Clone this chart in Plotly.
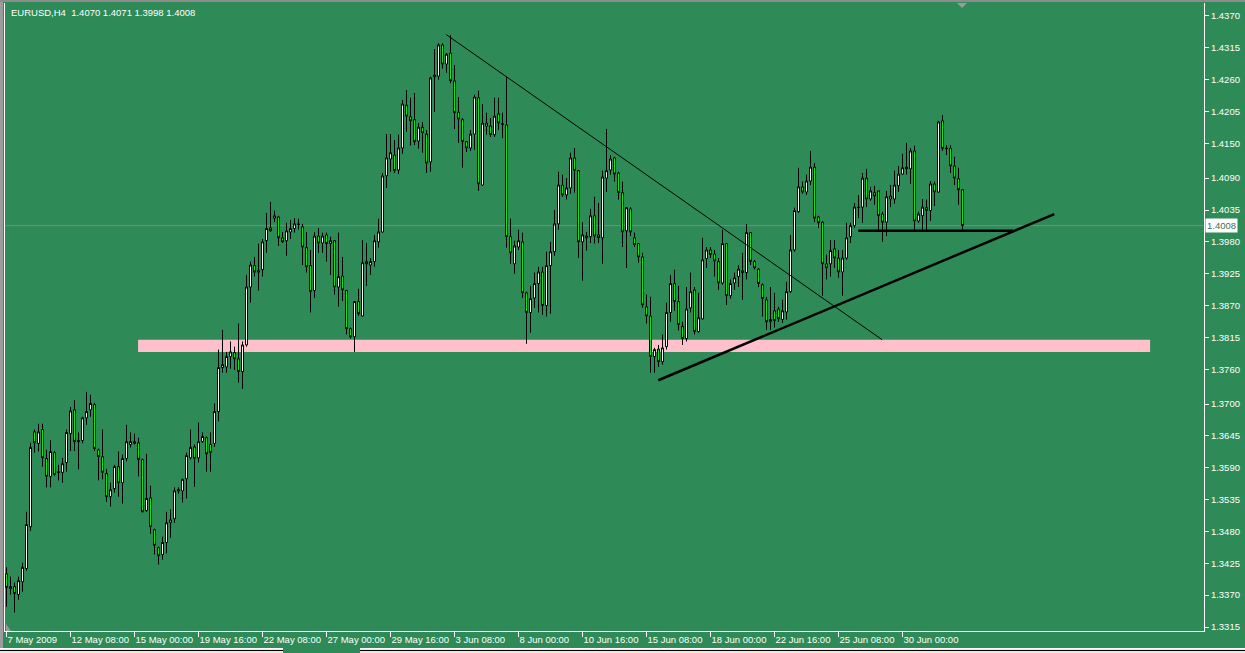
import plotly.graph_objects as go

# ---------------- data (EURUSD H4) ----------------
opens = [
1.3407,1.3381,1.3385,1.3371,1.3393,1.3416,1.3488,1.3652,1.3632,1.3656,
1.3606,1.3575,1.3616,1.3583,1.3582,1.3599,1.3649,1.3690,1.3637,1.3637,
1.3676,1.3690,1.3699,1.3621,1.3609,1.3580,1.3540,1.3554,1.3592,1.3564,
1.3606,1.3630,1.3632,1.3633,1.3604,1.3516,1.3538,1.3483,1.3452,1.3440,
1.3461,1.3495,1.3502,1.3550,1.3550,1.3571,1.3607,1.3626,1.3607,1.3635,
1.3642,1.3630,1.3632,1.3687,1.3763,1.3764,1.3782,1.3789,1.3778,1.3756,
1.3802,1.3902,1.3939,1.3928,1.3932,1.3982,1.4004,1.4021,1.4023,1.3987,
1.3982,1.3997,1.4003,1.4011,1.4006,1.3970,1.3939,1.3896,1.3990,1.3978,
1.3992,1.3977,1.3982,1.3902,1.3921,1.3896,1.3830,1.3816,1.3877,1.3852,
1.3946,1.3940,1.3946,1.3980,1.3997,1.4094,1.4123,1.4130,1.4104,1.4142,
1.4216,1.4196,1.4191,1.4154,1.4178,1.4166,1.4118,1.4265,1.4266,1.4320,
1.4287,1.4306,1.4258,1.4204,1.4191,1.4153,1.4142,1.4166,1.4229,1.4078,
1.4180,1.4180,1.4165,1.4201,1.4184,1.4182,1.3989,1.3942,1.3971,1.3980,
1.3892,1.3858,1.3883,1.3908,1.3928,1.3870,1.3939,1.3963,1.4011,1.4078,
1.4061,1.4073,1.4125,1.4103,1.3980,1.3987,1.3989,1.4025,1.3992,1.3987,
1.4090,1.4104,1.4125,1.4099,1.4065,1.3999,1.4037,1.3987,1.3977,1.3954,
1.3868,1.3852,1.3782,1.3795,1.3773,1.3799,1.3858,1.3908,1.3877,1.3834,
1.3813,1.3866,1.3897,1.3825,1.3847,1.3951,1.3966,1.3959,1.3946,1.3909,
1.3977,1.3887,1.3909,1.3920,1.3930,1.3927,1.3996,1.3946,1.3933,1.3906,
1.3880,1.3842,1.3861,1.3864,1.3846,1.3859,1.3894,1.3966,1.4032,1.4075,
1.4066,1.4085,1.4109,1.4023,1.4014,1.3942,1.3942,1.3968,1.3952,1.3928,
1.3952,1.3989,1.4008,1.4039,1.4040,1.4090,1.4054,1.4065,1.4068,1.4028,
1.4014,1.4054,1.4054,1.4077,1.4097,1.4109,1.4106,1.4137,1.4016,1.4025,
1.4039,1.4034,1.4080,1.4066,1.4189,1.4142,1.4142,1.4111,1.4089,1.4070,
]

highs = [
1.3418,1.3402,1.3392,1.3402,1.3426,1.3514,1.3633,1.3656,1.3666,1.3666,
1.3621,1.3638,1.3619,1.3595,1.3607,1.3656,1.3695,1.3707,1.3651,1.3678,
1.3721,1.3716,1.3702,1.3623,1.3656,1.3588,1.3564,1.3595,1.3618,1.3613,
1.3664,1.3651,1.3649,1.3642,1.3606,1.3614,1.3559,1.3485,1.3454,1.3471,
1.3514,1.3518,1.3556,1.3556,1.3571,1.3616,1.3656,1.3630,1.3668,1.3651,
1.3644,1.3651,1.3701,1.3794,1.3828,1.3790,1.3808,1.3799,1.3839,1.3808,
1.3923,1.3946,1.3954,1.3977,1.3985,1.4030,1.4049,1.4034,1.4025,1.3997,
1.4013,1.4018,1.4021,1.4020,1.4011,1.3997,1.3966,1.3997,1.4004,1.3996,
1.3996,1.3989,1.3983,1.3996,1.3954,1.3897,1.3832,1.3878,1.3899,1.3983,
1.3978,1.3952,1.3992,1.4020,1.4099,1.4166,1.4166,1.4156,1.4165,1.4225,
1.4242,1.4229,1.4237,1.4185,1.4187,1.4173,1.4265,1.4313,1.4323,1.4323,
1.4306,1.4337,1.4285,1.4230,1.4194,1.4154,1.4173,1.4234,1.4241,1.4218,
1.4203,1.4194,1.4229,1.4229,1.4203,1.4266,1.4020,1.3982,1.4001,1.3996,
1.3894,1.3904,1.3927,1.3937,1.3937,1.3963,1.3980,1.4035,1.4101,1.4096,
1.4090,1.4134,1.4142,1.4104,1.4014,1.3997,1.4037,1.4058,1.4047,1.4103,
1.4175,1.4130,1.4127,1.4101,1.4084,1.4040,1.4040,1.3996,1.3978,1.3961,
1.3889,1.3885,1.3797,1.3802,1.3820,1.3875,1.3923,1.3932,1.3904,1.3842,
1.3902,1.3927,1.3902,1.3892,1.3987,1.3971,1.3971,1.3966,1.3952,1.4001,
1.3978,1.3915,1.3927,1.3940,1.3961,1.4011,1.3997,1.3949,1.3935,1.3908,
1.3885,1.3902,1.3892,1.3868,1.3880,1.3911,1.3992,1.4039,1.4108,1.4084,
1.4096,1.4137,1.4116,1.4025,1.4016,1.3958,1.3983,1.3983,1.3966,1.3966,
1.4013,1.4013,1.4047,1.4061,1.4099,1.4106,1.4075,1.4077,1.4068,1.4032,
1.4068,1.4078,1.4103,1.4111,1.4132,1.4151,1.4142,1.4146,1.4032,1.4054,
1.4053,1.4085,1.4084,1.4189,1.4199,1.4147,1.4147,1.4127,1.4108,1.4071,
]

lows = [
1.3350,1.3371,1.3340,1.3362,1.3376,1.3412,1.3481,1.3616,1.3618,1.3592,
1.3556,1.3556,1.3576,1.3568,1.3564,1.3583,1.3619,1.3619,1.3587,1.3632,
1.3664,1.3678,1.3619,1.3568,1.3570,1.3531,1.3523,1.3547,1.3540,1.3528,
1.3601,1.3625,1.3630,1.3575,1.3513,1.3514,1.3476,1.3440,1.3423,1.3431,
1.3442,1.3469,1.3495,1.3545,1.3530,1.3537,1.3604,1.3557,1.3599,1.3633,
1.3583,1.3583,1.3626,1.3670,1.3754,1.3754,1.3761,1.3759,1.3737,1.3726,
1.3799,1.3875,1.3920,1.3896,1.3920,1.3961,1.3997,1.4014,1.3973,1.3978,
1.3956,1.3985,1.3996,1.4001,1.3940,1.3927,1.3858,1.3883,1.3961,1.3961,
1.3946,1.3923,1.3889,1.3868,1.3878,1.3820,1.3813,1.3790,1.3852,1.3851,
1.3904,1.3923,1.3937,1.3970,1.3996,1.4073,1.4101,1.4099,1.4097,1.4132,
1.4170,1.4146,1.4147,1.4141,1.4134,1.4099,1.4101,1.4204,1.4260,1.4279,
1.4272,1.4254,1.4175,1.4151,1.4108,1.4135,1.4137,1.4139,1.4068,1.4077,
1.4165,1.4161,1.4161,1.4173,1.4159,1.3970,1.3942,1.3925,1.3966,1.3883,
1.3804,1.3823,1.3866,1.3858,1.3854,1.3851,1.3856,1.3956,1.4001,1.4058,
1.4053,1.4063,1.4065,1.3952,1.3913,1.3965,1.3978,1.3977,1.3978,1.3942,
1.4066,1.4096,1.4084,1.4053,1.3971,1.3935,1.3990,1.3971,1.3944,1.3866,
1.3839,1.3754,1.3754,1.3764,1.3768,1.3794,1.3842,1.3861,1.3827,1.3802,
1.3808,1.3858,1.3820,1.3823,1.3846,1.3935,1.3952,1.3920,1.3897,1.3906,
1.3871,1.3882,1.3897,1.3902,1.3880,1.3915,1.3940,1.3932,1.3902,1.3851,
1.3828,1.3828,1.3832,1.3842,1.3840,1.3846,1.3892,1.3963,1.4030,1.4063,
1.4061,1.4078,1.4014,1.4004,1.3887,1.3915,1.3920,1.3935,1.3918,1.3887,
1.3949,1.3978,1.4004,1.4021,1.4013,1.4040,1.4051,1.4044,1.3999,1.3980,
1.3990,1.4040,1.4046,1.4066,1.4096,1.4096,1.4080,1.4001,1.4013,1.4001,
1.4001,1.4016,1.4042,1.4065,1.4137,1.4130,1.4099,1.4078,1.4044,1.3998,
]

closes = [
1.3383,1.3385,1.3373,1.3395,1.3418,1.3492,1.3625,1.3633,1.3652,1.3607,
1.3575,1.3618,1.3578,1.3582,1.3597,1.3651,1.3688,1.3635,1.3635,1.3676,
1.3687,1.3701,1.3623,1.3609,1.3582,1.3540,1.3552,1.3592,1.3564,1.3606,
1.3635,1.3635,1.3635,1.3604,1.3514,1.3537,1.3488,1.3456,1.3438,1.3461,
1.3495,1.3500,1.3550,1.3552,1.3570,1.3611,1.3625,1.3606,1.3635,1.3644,
1.3614,1.3616,1.3687,1.3763,1.3768,1.3782,1.3790,1.3778,1.3756,1.3802,
1.3902,1.3940,1.3928,1.3930,1.3980,1.4003,1.3999,1.4025,1.3987,1.3980,
1.3999,1.4003,1.4011,1.4010,1.3971,1.3937,1.3894,1.3990,1.3978,1.3990,
1.3977,1.3982,1.3902,1.3920,1.3897,1.3830,1.3816,1.3877,1.3856,1.3944,
1.3942,1.3946,1.3982,1.3997,1.4094,1.4125,1.4134,1.4103,1.4142,1.4218,
1.4197,1.4189,1.4153,1.4178,1.4168,1.4116,1.4263,1.4268,1.4320,1.4287,
1.4304,1.4258,1.4203,1.4192,1.4153,1.4142,1.4166,1.4230,1.4080,1.4185,
1.4185,1.4165,1.4197,1.4185,1.4183,1.3989,1.3961,1.3973,1.3982,1.3892,
1.3858,1.3882,1.3908,1.3928,1.3870,1.3939,1.3963,1.4011,1.4078,1.4061,
1.4073,1.4125,1.4103,1.3980,1.3992,1.3990,1.4025,1.3990,1.3987,1.4092,
1.4103,1.4123,1.4097,1.4065,1.3997,1.4039,1.3997,1.3975,1.3954,1.3871,
1.3852,1.3782,1.3794,1.3773,1.3797,1.3858,1.3908,1.3877,1.3837,1.3813,
1.3864,1.3894,1.3825,1.3849,1.3949,1.3966,1.3958,1.3947,1.3909,1.3977,
1.3887,1.3908,1.3918,1.3933,1.3927,1.3996,1.3946,1.3935,1.3908,1.3882,
1.3842,1.3846,1.3844,1.3847,1.3861,1.3894,1.3966,1.4034,1.4075,1.4066,
1.4085,1.4109,1.4021,1.4013,1.3942,1.3935,1.3965,1.3952,1.3928,1.3952,
1.3987,1.4008,1.4040,1.4040,1.4090,1.4054,1.4068,1.4059,1.4025,1.4014,
1.4058,1.4059,1.4078,1.4097,1.4108,1.4106,1.4137,1.4016,1.4028,1.4040,
1.4034,1.4080,1.4066,1.4187,1.4141,1.4141,1.4111,1.4090,1.4070,1.4008,
]

bars = list(range(len(closes)))

x_label_bars = [0, 16, 32, 48, 64, 80, 96, 112, 128, 144, 160, 176, 192, 208, 224]
x_labels = ["7 May 2009", "12 May 08:00", "15 May 00:00", "19 May 16:00",
            "22 May 08:00", "27 May 00:00", "29 May 16:00", "3 Jun 08:00",
            "8 Jun 00:00", "10 Jun 16:00", "15 Jun 08:00", "18 Jun 00:00",
            "22 Jun 16:00", "25 Jun 08:00", "30 Jun 00:00"]

y_labels = ["1.4370", "1.4315", "1.4260", "1.4205", "1.4150", "1.4090", "1.4035",
            "1.3980", "1.3925", "1.3870", "1.3815", "1.3760", "1.3700", "1.3645",
            "1.3590", "1.3535", "1.3480", "1.3425", "1.3370", "1.3315"]

bid_price = 1.4008
title_text = "EURUSD,H4\u00a0\u00a01.4070 1.4071 1.3998 1.4008"

# drawn objects (bar index, price)
down_trend = [(109.9, 1.4338), (218.9, 1.3811)]
up_trend = [(162.95, 1.3741), (261.95, 1.4028)]
flat_line = [(212.95, 1.3999), (251.7, 1.3999)]
support_zone = [(32.9, 1.3790), (285.9, 1.3811)]

# ---------------- figure ----------------
BG = "#2E8B57"
FONT = "Liberation Sans, Arial, sans-serif"

fig = go.Figure()
fig.add_trace(go.Candlestick(
    x=bars, open=opens, high=highs, low=lows, close=closes,
    increasing=dict(fillcolor="#FFFFFF", line=dict(color="#000000", width=1)),
    decreasing=dict(fillcolor="#00FF00", line=dict(color="#000000", width=1)),
    whiskerwidth=0, hoverinfo="skip", showlegend=False,
))

W, H = 1245, 653
L, R, T, B = 5, 41, 3, 22
pw, ph = W - L - R, H - T - B
def px(xp):
    return (xp - L) / pw
def py(yp):
    return (H - B - yp) / ph

shapes = []
# pink support zone (below candles)
shapes.append(dict(type="rect", xref="x", yref="y", layer="below",
                   x0=support_zone[0][0], x1=support_zone[1][0],
                   y0=support_zone[0][1], y1=support_zone[1][1],
                   fillcolor="#FFC0CB", line=dict(width=0)))
# bid line
shapes.append(dict(type="line", xref="paper", yref="y", x0=0, x1=1,
                   y0=bid_price, y1=bid_price, layer="below",
                   line=dict(color="#8282A0", width=1)))
# trend lines
shapes.append(dict(type="line", xref="x", yref="y",
                   x0=down_trend[0][0], y0=down_trend[0][1],
                   x1=down_trend[1][0], y1=down_trend[1][1],
                   line=dict(color="#000000", width=1)))
shapes.append(dict(type="line", xref="x", yref="y",
                   x0=up_trend[0][0], y0=up_trend[0][1],
                   x1=up_trend[1][0], y1=up_trend[1][1],
                   line=dict(color="#000000", width=2.5)))
shapes.append(dict(type="line", xref="x", yref="y",
                   x0=flat_line[0][0], y0=flat_line[0][1],
                   x1=flat_line[1][0], y1=flat_line[1][1],
                   line=dict(color="#000000", width=2.5)))

# window chrome: grey left/top border, bottom tab strip
shapes.append(dict(type="rect", xref="paper", yref="paper",
                   x0=px(0), x1=px(3), y0=py(653), y1=py(0),
                   fillcolor="#9C9C9C", line=dict(width=0), layer="below"))
shapes.append(dict(type="rect", xref="paper", yref="paper",
                   x0=px(0), x1=px(1245), y0=py(2), y1=py(0),
                   fillcolor="#8C8C8C", line=dict(width=0), layer="below"))
for seg in [(0, 283), (360, 1245)]:
    shapes.append(dict(type="rect", xref="paper", yref="paper",
                       x0=px(seg[0]), x1=px(seg[1]), y0=py(653), y1=py(649),
                       fillcolor="#ECE9D8", line=dict(width=0)))
    shapes.append(dict(type="line", xref="paper", yref="paper",
                       x0=px(seg[0]), x1=px(seg[1]), y0=py(648.5), y1=py(648.5),
                       line=dict(color="#FFFFFF", width=1)))
    shapes.append(dict(type="line", xref="paper", yref="paper",
                       x0=px(seg[0]), x1=px(seg[1]), y0=py(650.5), y1=py(650.5),
                       line=dict(color="#000000", width=1)))
# chart-shift triangle at top and small marker bottom-left
shapes.append(dict(type="path", xref="paper", yref="paper",
                   path=f"M {px(957)} {py(3)} L {px(967)} {py(3)} L {px(962)} {py(8)} Z",
                   fillcolor="#9A9A9A", line=dict(width=0)))
shapes.append(dict(type="path", xref="paper", yref="paper",
                   path=f"M {px(6)} {py(624)} L {px(6)} {py(631)} L {px(11)} {py(631)} Z",
                   fillcolor="#9A9A9A", line=dict(width=0)))

annotations = [
    dict(text=title_text, xref="paper", yref="paper", x=px(9), y=py(12),
         xanchor="left", yanchor="middle", showarrow=False,
         font=dict(family=FONT, size=9.5, color="#FFFFFF")),
    dict(text="1.4008", xref="paper", yref="y", x=px(1205), y=bid_price,
         xanchor="left", yanchor="middle", showarrow=False,
         bgcolor="#FFFFFF", borderpad=1,
         font=dict(family=FONT, size=9.5, color="#3F6F50")),
]

fig.update_layout(
    width=W, height=H,
    margin=dict(l=L, r=R, t=T, b=B, pad=0, autoexpand=False),
    paper_bgcolor=BG, plot_bgcolor=BG,
    showlegend=False, boxgap=0.3, hovermode=False,
    shapes=shapes, annotations=annotations,
    font=dict(family=FONT, size=9, color="#FFFFFF"),
    xaxis=dict(
        range=[-0.375, 299.375], rangeslider=dict(visible=False),
        showgrid=False, zeroline=False, automargin=False,
        showline=True, linecolor="#FFFFFF", linewidth=1,
        ticks="outside", ticklen=5, tickcolor="#FFFFFF", tickwidth=1,
        tickvals=x_label_bars, ticktext=x_labels, tickangle=0,
        ticklabelposition="outside right",
        tickfont=dict(family=FONT, size=9.5, color="#FFFFFF"),
    ),
    yaxis=dict(
        range=[1.33081, 1.43924], side="right",
        showgrid=False, zeroline=False, automargin=False,
        showline=True, mirror=True, linecolor="#FFFFFF", linewidth=1,
        ticks="outside", ticklen=4, tickcolor="#FFFFFF", tickwidth=1,
        tickvals=[float(v) for v in y_labels], ticktext=y_labels,
        tickfont=dict(family=FONT, size=9.5, color="#FFFFFF"),
    ),
)

fig.write_html(
    "out.html",
    config={"displayModeBar": False},
    post_script="document.body.style.margin='0px';document.body.style.background='#2E8B57';document.body.style.overflow='hidden';",
)
